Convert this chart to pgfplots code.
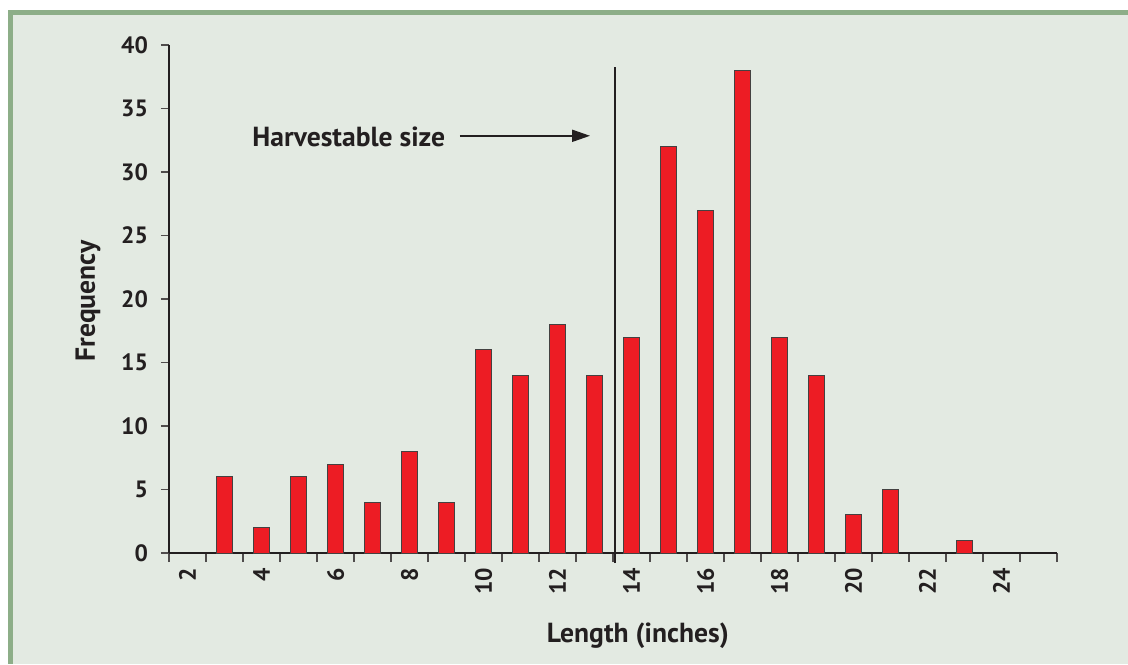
\documentclass[border=0pt]{standalone}
\usepackage{pgfplots}
\pgfplotsset{compat=1.18}
\usetikzlibrary{arrows.meta}
\usepackage{fontspec}
\setmainfont{PT Sans}
\definecolor{barred}{HTML}{ED1C24}
\definecolor{bgfill}{HTML}{E3EAE2}
\definecolor{bordergreen}{HTML}{8DAE88}
\definecolor{txt}{HTML}{231F20}
\begin{document}
\begin{tikzpicture}
% background (1px = 0.5pt; axis box lower-left at (0,0))
\fill[white] (-84.5pt,-55.5pt) rectangle (479.5pt,276.5pt);
\fill[bordergreen] (-80.5pt,-55.5pt) rectangle (479.5pt,271.5pt);
\fill[bgfill] (-78pt,-55.5pt) rectangle (479.5pt,269pt);
\begin{axis}[
  scale only axis, width=444pt, height=254pt,
  xmin=1.5, xmax=25.5, ymin=0, ymax=40,
  axis lines=left,
  axis line style={-, line width=0.8pt, txt},
  clip=false,
  tick align=outside,
  major tick length=4pt,
  minor tick length=4.5pt,
  ytick={0,5,...,40},
  xtick={2,4,...,24},
  minor xtick={1.5,2.5,...,25.5},
  major x tick style={draw=none},
  minor x tick style={line width=0.6pt, txt!80},
  major y tick style={line width=0.6pt, txt!80},
  /pgf/number format/assume math mode=true,
  tick label style={font=\bfseries\fontsize{11.8}{13}\selectfont, text=txt},
  xticklabel style={rotate=90, anchor=east},
  yticklabel style={xshift=-3pt},
  xlabel={Length (inches)},
  ylabel={Frequency},
  label style={font=\bfseries\fontsize{13.8}{15}\selectfont, text=txt},
  xlabel style={at={(rel axis cs:0.528,-0.163)}, anchor=center},
  ylabel style={at={(rel axis cs:-0.0912,0.496)}, anchor=center},
]
\addplot[ybar, bar width=0.45, fill=barred, draw=txt!85, line width=0.5pt]
  coordinates {
  (3,6) (4,2) (5,6) (6,7) (7,4) (8,8) (9,4) (10,16) (11,14) (12,18)
  (13,14) (14,17) (15,32) (16,27) (17,38) (18,17) (19,14) (20,3) (21,5) (23,1)
  };
\addplot[txt, line width=1pt] coordinates {(13.56,-0.8) (13.56,38.3)};
\node[font=\bfseries\fontsize{13.8}{15}\selectfont, text=txt] at (axis cs:6.36,32.8) {Harvestable size};
\draw[-{Triangle[length=9pt,width=6pt]}, line width=0.9pt, txt] (axis cs:9.36,32.85) -- (axis cs:12.88,32.85);
\end{axis}
\pgfresetboundingbox
\useasboundingbox (-84.5pt,-55.5pt) rectangle (479.5pt,276.5pt);
\end{tikzpicture}
\end{document}
